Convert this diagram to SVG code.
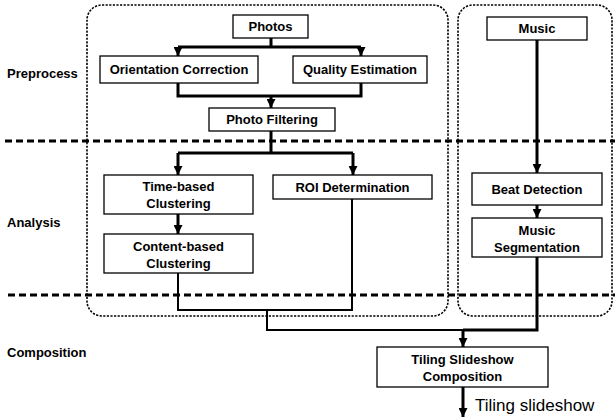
<svg xmlns="http://www.w3.org/2000/svg" width="615" height="418" viewBox="0 0 615 418">
<style>
.bx{fill:#fff;stroke:#000;stroke-width:1.3}
.t{font-family:"Liberation Sans",Arial,sans-serif;font-weight:bold;font-size:13px;text-anchor:middle;fill:#000}
.lab{font-family:"Liberation Sans",Arial,sans-serif;font-weight:bold;font-size:13px;fill:#000}
.reg{fill:none;stroke:#000;stroke-width:1.6;stroke-dasharray:2.2 1.4}
.sep{stroke:#000;stroke-width:2.8;stroke-dasharray:7 4}
.thk{fill:none;stroke:#000;stroke-width:3}
.thn{fill:none;stroke:#000;stroke-width:2}
</style>
<defs>
<marker id="ah" viewBox="0 0 10 10" refX="10" refY="5" markerWidth="3" markerHeight="3" orient="auto" markerUnits="strokeWidth">
<path d="M0,0 L10,5 L0,10 z" fill="#000"/>
</marker>
</defs>
<g id="regions">
<rect class="reg" x="87" y="5" width="361" height="311" rx="15"/>
<rect class="reg" x="458" y="5" width="154" height="311" rx="15"/>
</g>
<g id="separators">
<line class="sep" x1="5" y1="141" x2="615" y2="141"/>
<line class="sep" x1="8" y1="295" x2="615" y2="295"/>
</g>
<g id="stage-labels">
<text class="lab" x="7" y="78">Preprocess</text>
<text class="lab" x="7" y="227">Analysis</text>
<text class="lab" x="7" y="357">Composition</text>
</g>
<g id="connectors">
<path class="thk" d="M271,38 V47 M178,47 H361"/>
<path class="thk" d="M178,47 V56" marker-end="url(#ah)"/>
<path class="thk" d="M361,47 V56" marker-end="url(#ah)"/>
<path class="thk" d="M178,83 V96 H361 V83"/>
<path class="thk" d="M271,96 V108" marker-end="url(#ah)"/>
<path class="thk" d="M271,131 V153 M178,153 H353"/>
<path class="thk" d="M178,153 V175" marker-end="url(#ah)"/>
<path class="thk" d="M353,153 V175" marker-end="url(#ah)"/>
<path class="thk" d="M178,214 V234" marker-end="url(#ah)"/>
<path class="thn" d="M178,273 V310 H352 V199"/>
<path class="thn" d="M267,310 V330 H463"/>
<path class="thk" d="M537,40 V173" marker-end="url(#ah)"/>
<path class="thk" d="M537,205 V218" marker-end="url(#ah)"/>
<path class="thk" d="M537,257 V330 H463"/>
<path class="thk" d="M463,330 V347" marker-end="url(#ah)"/>
<path class="thk" d="M463,387 V417" marker-end="url(#ah)"/>
</g>
<g id="photos"><rect class="bx" x="233" y="15" width="75" height="23"/><text class="t" x="270.5" y="31">Photos</text></g>
<g id="orientation"><rect class="bx" x="100" y="56" width="158" height="27"/><text class="t" x="179" y="74">Orientation Correction</text></g>
<g id="quality"><rect class="bx" x="293" y="56" width="134" height="27"/><text class="t" x="360" y="74">Quality Estimation</text></g>
<g id="filtering"><rect class="bx" x="209" y="108" width="126" height="23"/><text class="t" x="272" y="124">Photo Filtering</text></g>
<g id="time"><rect class="bx" x="104" y="175" width="149" height="39"/><text class="t" x="178.5" y="191">Time-based</text><text class="t" x="178.5" y="208">Clustering</text></g>
<g id="content"><rect class="bx" x="104" y="234" width="149" height="39"/><text class="t" x="178.5" y="251">Content-based</text><text class="t" x="178.5" y="268">Clustering</text></g>
<g id="roi"><rect class="bx" x="273" y="175" width="159" height="24"/><text class="t" x="352.5" y="191.5">ROI Determination</text></g>
<g id="music"><rect class="bx" x="487" y="17" width="100" height="23"/><text class="t" x="537" y="33">Music</text></g>
<g id="beat"><rect class="bx" x="472" y="173" width="130" height="32"/><text class="t" x="537" y="193.5">Beat Detection</text></g>
<g id="segmentation"><rect class="bx" x="472" y="218" width="130" height="39"/><text class="t" x="537" y="235">Music</text><text class="t" x="537" y="252">Segmentation</text></g>
<g id="tiling"><rect class="bx" x="377" y="347" width="171" height="40"/><text class="t" x="462.5" y="364">Tiling Slideshow</text><text class="t" x="462.5" y="381">Composition</text></g>
<g id="output"><text x="475" y="411" font-family="Liberation Sans, Arial, sans-serif" font-size="17">Tiling slideshow</text></g>
</svg>
